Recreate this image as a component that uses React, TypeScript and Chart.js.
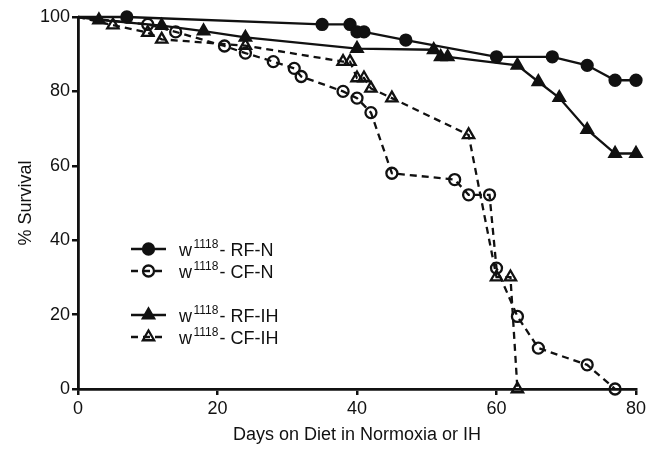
import React, { useEffect, useRef } from 'react';
import { Chart, registerables } from 'chart.js';
import { drawPoint } from 'chart.js/helpers';

Chart.register(...registerables);

// ---- Data ----
const rfnDays = [0, 7, 35, 39, 40, 41, 47, 60, 68, 73, 77, 80];
const rfnSurv = [100, 100, 98, 98, 96, 96, 93.8, 89.3, 89.3, 87, 83, 83];

const cfnDays = [0, 10, 14, 21, 24, 28, 31, 32, 38, 40, 42, 45, 54, 56, 59, 60, 63, 66, 73, 77];
const cfnSurv = [100, 98, 96, 92.2, 90.3, 88, 86.2, 84, 80, 78.2, 74.3, 58, 56.3, 52.2, 52.2, 32.5, 19.5, 11, 6.5, 0];

const rfihDays = [0, 3, 12, 18, 24, 40, 51, 52, 53, 63, 66, 69, 73, 77, 80];
const rfihSurv = [100, 99.2, 97.7, 96.2, 94.5, 91.5, 91.2, 89.3, 89.3, 87, 82.6, 78.3, 69.7, 63.3, 63.3];

const cfihDays = [0, 5, 10, 12, 24, 38, 39, 40, 41, 42, 45, 56, 60, 62, 63];
const cfihSurv = [100, 97.8, 95.8, 94, 92.3, 88, 88, 83.6, 83.6, 80.8, 78.2, 68.3, 30.1, 30.1, 0];

const xTicks = [0, 20, 40, 60, 80];
const yTicks = [0, 20, 40, 60, 80, 100];

const strainName = 'w';
const strainSup = '1118';
const groupLabels = ['- RF-N', '- CF-N', '- RF-IH', '- CF-IH'];

const xTitle = 'Days on Diet in Normoxia or IH';
const yTitle = '% Survival';

const FONT = '"Liberation Sans", Arial, Helvetica, sans-serif';
const INK = '#111111';
const DASH = [7, 5];

const toPts = (xs: number[], ys: number[]) => xs.map((x, i) => ({ x, y: ys[i] }));

const styles = [
  { shape: 'circle', radius: 5.5, fill: INK, dash: [] as number[] },
  { shape: 'circle', radius: 5.5, fill: 'rgba(0,0,0,0)', dash: DASH },
  { shape: 'triangle', radius: 6.5, fill: INK, dash: [] as number[] },
  { shape: 'triangle', radius: 6.5, fill: 'rgba(0,0,0,0)', dash: DASH },
];

const legendPlugin = {
  id: 'survLegend',
  afterDraw(chart: any) {
    const { ctx, chartArea } = chart;
    const left = chartArea.left;
    const rowYs = [249, 271, 315, 337];
    ctx.save();
    groupLabels.forEach((lab, i) => {
      const st = styles[i];
      const y = rowYs[i];
      const lx0 = left + 53;
      const lx1 = left + 88;
      ctx.strokeStyle = INK;
      ctx.lineWidth = 2.3;
      ctx.setLineDash(st.dash);
      ctx.beginPath();
      ctx.moveTo(lx0, y);
      ctx.lineTo(lx1, y);
      ctx.stroke();
      ctx.setLineDash([]);
      ctx.fillStyle = st.fill;
      ctx.strokeStyle = INK;
      ctx.lineWidth = 2.3;
      drawPoint(ctx, { pointStyle: st.shape, radius: st.radius, borderWidth: 2.3, rotation: 0 } as any, (lx0 + lx1) / 2, y);
      ctx.fillStyle = INK;
      ctx.textBaseline = 'alphabetic';
      ctx.textAlign = 'left';
      let tx = left + 101;
      ctx.font = `18px ${FONT}`;
      ctx.fillText(strainName, tx, y + 7);
      tx += ctx.measureText(strainName).width + 1.5;
      ctx.font = `12px ${FONT}`;
      ctx.fillText(strainSup, tx, y - 1);
      tx += ctx.measureText(strainSup).width + 1;
      ctx.font = `18px ${FONT}`;
      ctx.fillText(lab, tx, y + 7);
    });
    ctx.restore();
  },
};

export default function App() {
  const ref = useRef<HTMLCanvasElement | null>(null);
  useEffect(() => {
    if (!ref.current) return;
    const series = [
      toPts(rfnDays, rfnSurv),
      toPts(cfnDays, cfnSurv),
      toPts(rfihDays, rfihSurv),
      toPts(cfihDays, cfihSurv),
    ];
    const chart = new Chart(ref.current, {
      type: 'line',
      data: {
        datasets: series.map((d, i) => ({
          label: groupLabels[i],
          data: d,
          borderColor: INK,
          borderWidth: 2.3,
          borderDash: styles[i].dash,
          pointStyle: styles[i].shape as any,
          pointRadius: d.map((p) => (p.x === 0 ? 0 : styles[i].radius)),
          pointBackgroundColor: styles[i].fill,
          pointBorderColor: INK,
          pointBorderWidth: 2.3,
          fill: false,
          tension: 0,
          clip: false as any,
        })),
      },
      options: {
        animation: false,
        responsive: false,
        layout: { padding: { left: 0, right: 21, top: 17, bottom: 0 } },
        plugins: { legend: { display: false }, tooltip: { enabled: false } },
        scales: {
          x: {
            type: 'linear',
            min: 0,
            max: 80,
            afterFit: (s: any) => { s.height = 63; },
            afterBuildTicks: (s: any) => { s.ticks = xTicks.map((v) => ({ value: v })); },
            grid: { drawOnChartArea: false, drawTicks: true, tickLength: 6, color: INK, lineWidth: 2.5 },
            border: { display: true, color: INK, width: 2.8 },
            ticks: { color: INK, font: { family: FONT, size: 18 }, padding: 3, maxRotation: 0 },
            title: { display: true, text: xTitle, color: INK, font: { family: FONT, size: 18 }, padding: { top: 0, bottom: 6 } },
          },
          y: {
            type: 'linear',
            min: 0,
            max: 100,
            afterFit: (s: any) => { s.width = 78; },
            afterBuildTicks: (s: any) => { s.ticks = yTicks.map((v) => ({ value: v })); },
            grid: { drawOnChartArea: false, drawTicks: true, tickLength: 6, color: INK, lineWidth: 2.5 },
            border: { display: true, color: INK, width: 2.8 },
            ticks: { color: INK, font: { family: FONT, size: 18 }, padding: 2 },
            title: { display: true, text: yTitle, color: INK, font: { family: FONT, size: 18 }, padding: { top: 15, bottom: 0 } },
          },
        },
      },
      plugins: [legendPlugin],
    });
    return () => chart.destroy();
  }, []);
  return (
    <div style={{ position: 'absolute', left: 0, top: 0, width: 657, height: 452, background: '#fff' }}>
      <canvas ref={ref} width={657} height={452} style={{ display: 'block' }} />
    </div>
  );
}
